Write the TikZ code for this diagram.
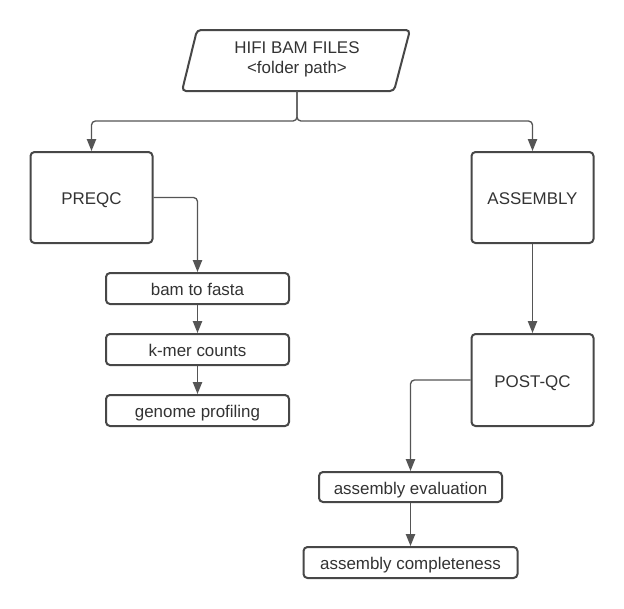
\documentclass[tikz,border=0pt]{standalone}
\usepackage{fontspec}
\setmainfont{Liberation Sans}
\usetikzlibrary{arrows.meta}
\definecolor{ink}{HTML}{333333}
\definecolor{edge}{HTML}{474747}
\definecolor{wire}{HTML}{555555}
\begin{document}
\begin{tikzpicture}[x=0.75pt,y=-0.75pt,
  box/.style={draw=edge,line width=1.5pt,rounded corners=3pt,fill=white,text=ink,
    font=\fontsize{12.7}{15}\selectfont,inner sep=0pt,align=center,
    text height=11pt,text depth=0pt},
  conn/.style={draw=wire,line width=1pt,rounded corners=3pt,
    -{Triangle[length=9pt,width=7pt]}}]
\useasboundingbox (0,0) rectangle (624,608);
% parallelogram input
\draw[draw=edge,line width=1.5pt,rounded corners=3pt,fill=white]
  (197,30) -- (410,30) -- (394,91) -- (182,91) -- cycle;
\node[text=ink,font=\fontsize{12.7}{15}\selectfont,align=center] (hifi) at (297,59.5)
  {HIFI BAM FILES\\<folder path>};
\coordinate (hifib) at (297,91);
% boxes
\node[box,minimum width=91.5pt,minimum height=68.25pt] (preqc) at (91.5,197.5) {PREQC};
\node[box,minimum width=91.5pt,minimum height=68.25pt] (assembly) at (532.5,197.5) {ASSEMBLY};
\node[box,minimum width=91.5pt,minimum height=69pt] (postqc) at (532.5,380) {POST-QC};
\node[box,minimum width=137.25pt,minimum height=23.25pt] (b2f) at (197.5,288.5) {bam to fasta};
\node[box,minimum width=137.25pt,minimum height=23.25pt] (kmer) at (197.5,349.5) {k-mer counts};
\node[box,minimum width=137.25pt,minimum height=23.25pt] (genome) at (197.5,410.5) {genome profiling};
\node[box,minimum width=137.25pt,minimum height=22.5pt] (aeval) at (410.5,487) {assembly evaluation};
\node[box,minimum width=160.5pt,minimum height=23.25pt] (acomp) at (410.5,562.5) {assembly completeness};
% connectors
\draw[conn] (hifib) -- (297,121) -| (preqc.north);
\draw[conn] (hifib) -- (297,121) -| (assembly.north);
\draw[conn] (preqc.east) -| (b2f.north);
\draw[conn] (b2f.south) -- (kmer.north);
\draw[conn] (kmer.south) -- (genome.north);
\draw[conn] (assembly.south) -- (postqc.north);
\draw[conn] (postqc.west) -| (aeval.north);
\draw[conn] (aeval.south) -- (acomp.north);
\end{tikzpicture}
\end{document}
